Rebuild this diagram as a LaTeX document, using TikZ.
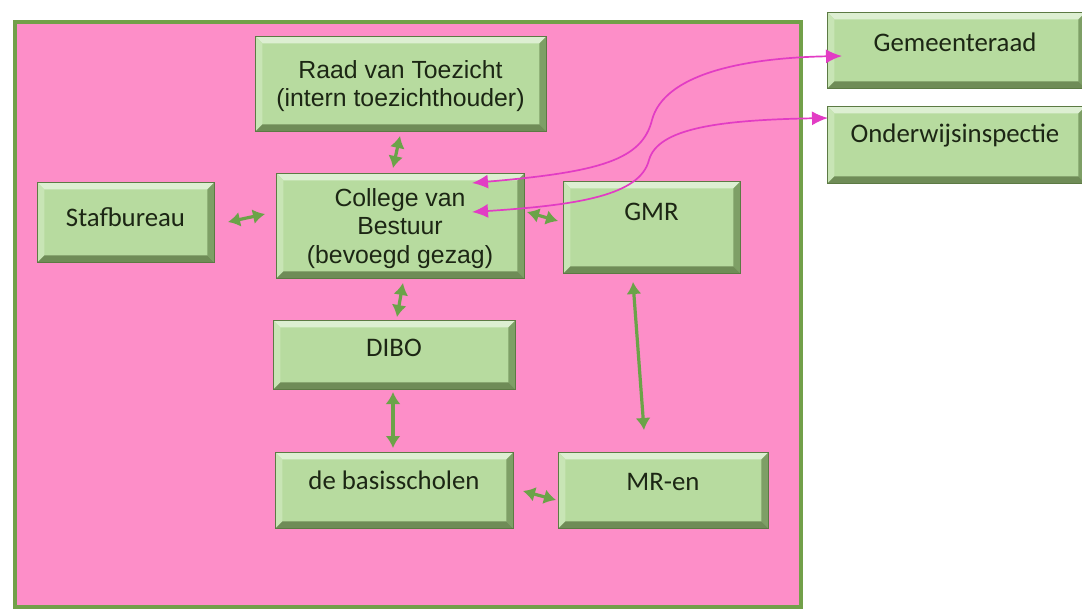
\documentclass[tikz,border=0pt]{standalone}
\usepackage{fontspec}
\newfontfamily\calfont{Carlito}
\newfontfamily\arifont{Liberation Sans}
\usetikzlibrary{arrows.meta}
\definecolor{pinkbg}{HTML}{FD8EC8}
\definecolor{frameg}{HTML}{72A049}
\definecolor{boxfill}{HTML}{B7DB9F}
\definecolor{bevtop}{HTML}{DDEFD2}
\definecolor{bevleft}{HTML}{C8E5B5}
\definecolor{bevright}{HTML}{7E9F66}
\definecolor{bevbot}{HTML}{6F8C57}
\definecolor{boxline}{HTML}{5C7A44}
\definecolor{txtc}{HTML}{1C2614}
\definecolor{arrg}{HTML}{6BA348}
\definecolor{mag}{HTML}{E23CC4}
\tikzset{
  bx/.style={rectangle, anchor=north west, inner sep=0pt, fill=boxfill, draw=boxline, line width=0.8pt,
    path picture={
      \fill[bevtop] (path picture bounding box.north west) -- (path picture bounding box.north east)
        -- ([shift={(-7pt,-7pt)}]path picture bounding box.north east) -- ([shift={(7pt,-7pt)}]path picture bounding box.north west) -- cycle;
      \fill[bevleft] (path picture bounding box.north west) -- (path picture bounding box.south west)
        -- ([shift={(7pt,7pt)}]path picture bounding box.south west) -- ([shift={(7pt,-7pt)}]path picture bounding box.north west) -- cycle;
      \fill[bevright] (path picture bounding box.north east) -- (path picture bounding box.south east)
        -- ([shift={(-7pt,7pt)}]path picture bounding box.south east) -- ([shift={(-7pt,-7pt)}]path picture bounding box.north east) -- cycle;
      \fill[bevbot] (path picture bounding box.south west) -- (path picture bounding box.south east)
        -- ([shift={(-7pt,7pt)}]path picture bounding box.south east) -- ([shift={(7pt,7pt)}]path picture bounding box.south west) -- cycle;
    }},
  atxt/.style={text=txtc, font=\arifont\fontsize{24.8}{28.5}\selectfont, align=center, inner sep=0pt},
  ctxt/.style={text=txtc, font=\calfont\fontsize{26.8}{30}\selectfont, align=center, inner sep=0pt},
  garr/.style={draw=arrg, line width=3.2pt, {Latex[length=12pt,width=15pt]}-{Latex[length=12pt,width=15pt]}},
  marr/.style={draw=mag, line width=1.7pt, {Latex[length=16pt,width=14pt]}-{Latex[length=16pt,width=14pt]}}
}
\begin{document}
\begin{tikzpicture}[x=1pt,y=-1pt]
\useasboundingbox[fill=white] (0,0) rectangle (1082,608);
\node[draw=frameg, line width=3.5pt, fill=pinkbg, rectangle, anchor=north west, minimum width=786pt, minimum height=585pt, inner sep=0pt] (frame) at (13,20) {};
% boxes
\node[bx, minimum width=291pt, minimum height=95pt] (raad) at (255,36) {};
\node[bx, minimum width=248pt, minimum height=105pt] (college) at (276,173) {};
\node[bx, minimum width=177pt, minimum height=80pt] (staf) at (37,182) {};
\node[bx, minimum width=177pt, minimum height=92pt] (gmr) at (563,181) {};
\node[bx, minimum width=242pt, minimum height=69pt] (dibo) at (273,320) {};
\node[bx, minimum width=238pt, minimum height=76pt] (basis) at (275,452) {};
\node[bx, minimum width=210pt, minimum height=76pt] (mr) at (558,452) {};
\node[bx, minimum width=258pt, minimum height=76pt] (gem) at (827,12) {};
\node[bx, minimum width=258pt, minimum height=77pt] (ond) at (827,106) {};
% texts
\node[atxt] (traad) at (400.5,86) {Raad van Toezicht\\(intern toezichthouder)};
\node[atxt] (tcollege) at (400,228.5) {College van\\Bestuur\\(bevoegd gezag)};
\node[ctxt] (tstaf) at (125.5,217) {Stafbureau};
\node[ctxt] (tgmr) at (651.5,212) {GMR};
\node[ctxt] (tdibo) at (394,348) {DIBO};
\node[ctxt] (tbasis) at (394,480) {de basisscholen};
\node[ctxt] (tmr) at (663,482) {MR-en};
\node[ctxt] (tgem) at (955,42) {Gemeenteraad};
\node[ctxt] (tond) at (955,135) {Onderwijsinspectie};
% green connectors
\coordinate (a1) at (400,136); \coordinate (a2) at (393,168);
\draw[garr] (a1) -- (a2);
\coordinate (b1) at (228,222); \coordinate (b2) at (265,214);
\draw[garr] (b1) -- (b2);
\coordinate (c1) at (527,212); \coordinate (c2) at (558,221);
\draw[garr] (c1) -- (c2);
\coordinate (d1) at (403,283); \coordinate (d2) at (397,317);
\draw[garr] (d1) -- (d2);
\coordinate (e1) at (393,392); \coordinate (e2) at (393,448);
\draw[garr] (e1) -- (e2);
\coordinate (f1) at (633,282); \coordinate (f2) at (644,430);
\draw[garr] (f1) -- (f2);
\coordinate (g1) at (523,491); \coordinate (g2) at (556,500);
\draw[garr] (g1) -- (g2);
% magenta connectors
\coordinate (m1) at (472,183); \coordinate (m2) at (842,56);
\draw[marr] (m1) .. controls (600,172) and (642,160) .. (652,120) .. controls (664,75) and (740,58) .. (m2);
\coordinate (n1) at (472,212); \coordinate (n2) at (828,118);
\draw[marr] (n1) .. controls (580,205) and (640,195) .. (649,160) .. controls (658,128) and (720,120) .. (n2);
\end{tikzpicture}
\end{document}
